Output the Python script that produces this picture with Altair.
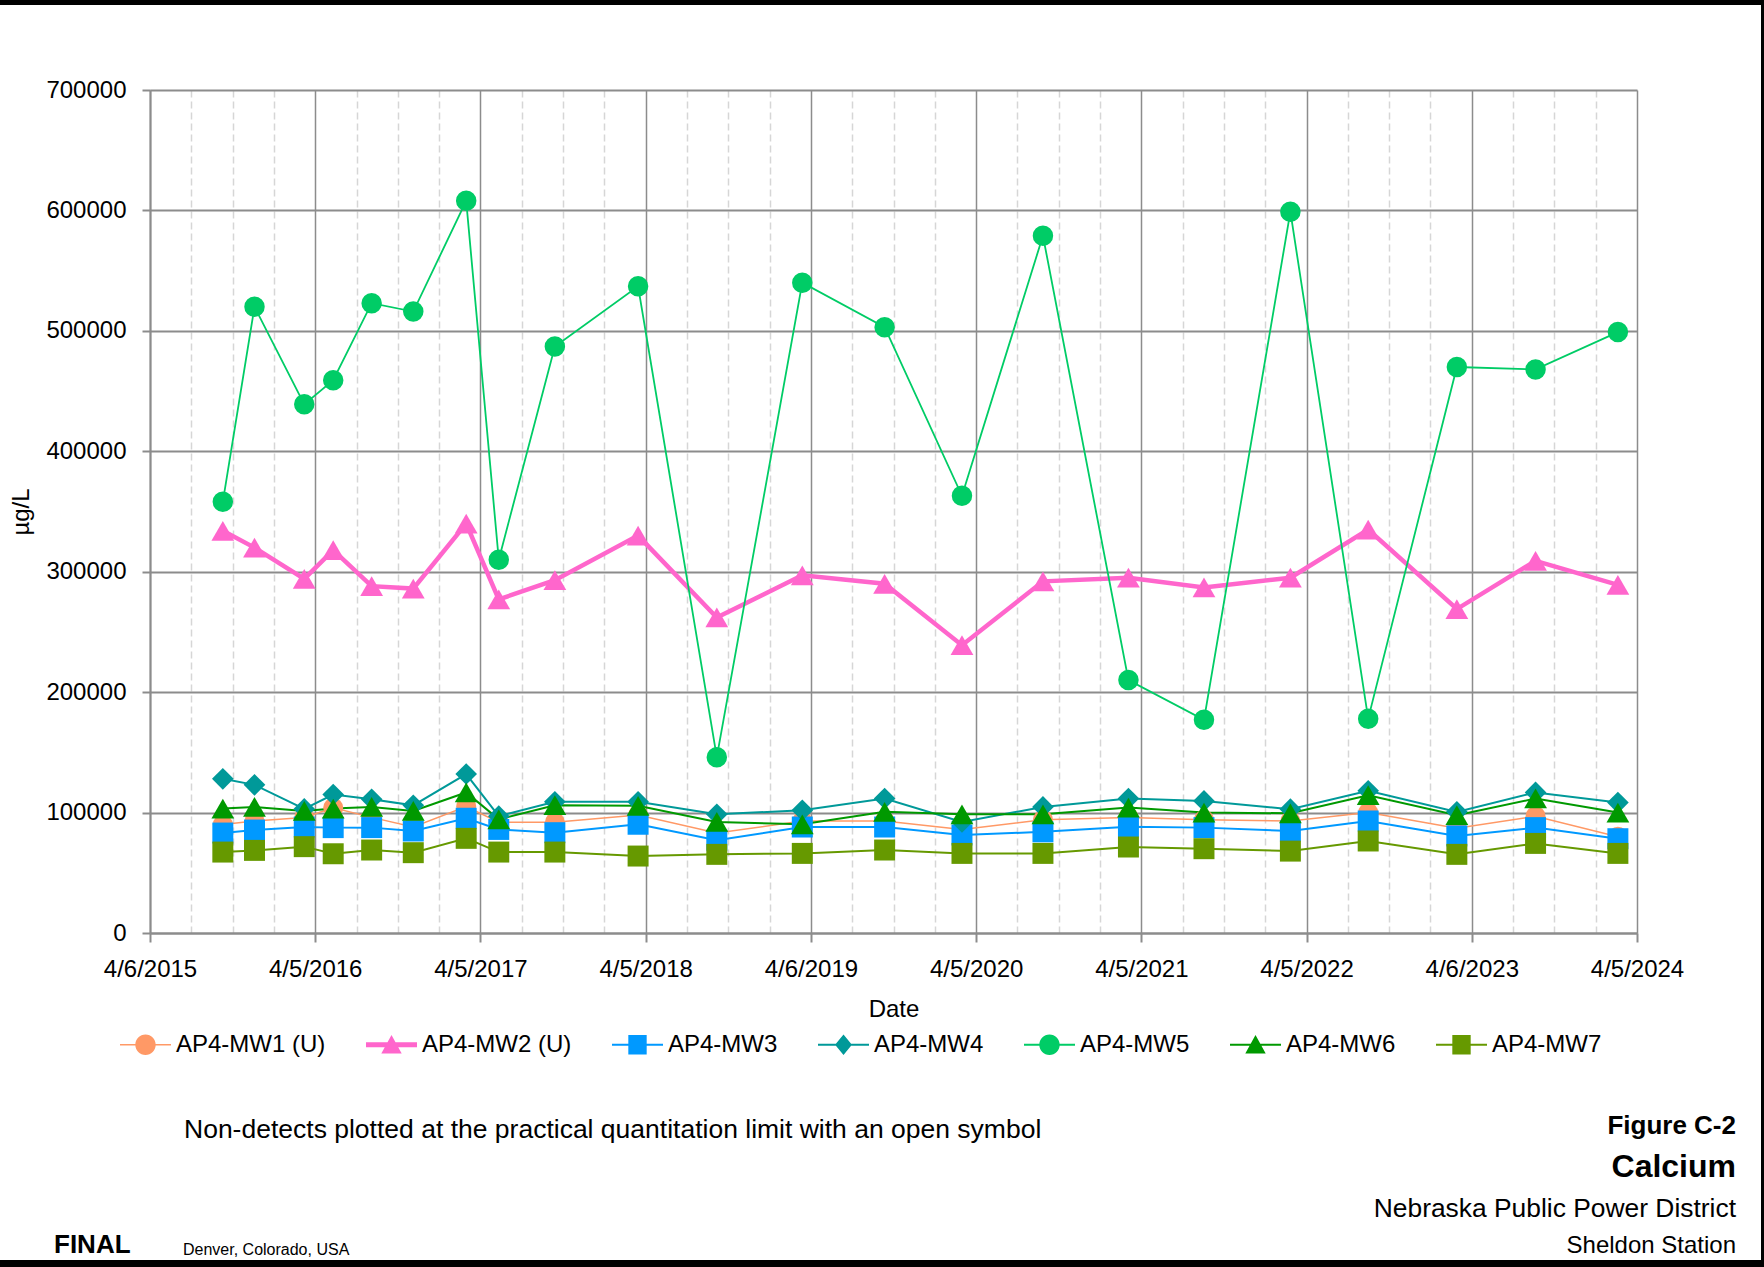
import altair as alt
import pandas as pd
from datetime import datetime, timezone

# ---------------- data ----------------
series_names = ["AP4-MW1 (U)", "AP4-MW2 (U)", "AP4-MW3", "AP4-MW4", "AP4-MW5", "AP4-MW6", "AP4-MW7"]

sample_dates = ["2015-09-14", "2015-11-23", "2016-03-12", "2016-05-15", "2016-08-08", "2016-11-08",
                "2017-03-05", "2017-05-16", "2017-09-17", "2018-03-20", "2018-09-10", "2019-03-18",
                "2019-09-16", "2020-03-05", "2020-08-31", "2021-03-08", "2021-08-22", "2022-03-01",
                "2022-08-20", "2023-03-04", "2023-08-25", "2024-02-23"]

mw1 = [90000, 93000, 96000, 104000, 96000, 88000, 105000, 92000, 92000, 98000, 83000,
       93000, 93000, 86000, 94000, 96000, 94000, 93000, 100000, 87000, 97000, 80000]
mw2 = [334000, 320000, 294000, 318000, 288000, 286000, 340000, 277000, 293000, 330000, 262000,
       297000, 290000, 239000, 292000, 295000, 287000, 295000, 335000, 269000, 309000, 289000]
mw3 = [83000, 85500, 88000, 87500, 87500, 84700, 95300, 86000, 83300, 90300, 77000,
       88000, 88000, 81400, 84000, 88300, 87500, 84700, 93000, 80600, 87500, 78300]
mw4 = [128000, 123000, 103000, 115000, 111000, 106000, 132000, 97000, 109000, 109000, 98600,
       101900, 111700, 92200, 104700, 111700, 109700, 102800, 118100, 100600, 116700, 108300]
mw5 = [358000, 520000, 439000, 459000, 523000, 516000, 608000, 310000, 487000, 537000, 146000,
       540000, 503000, 363000, 579000, 210000, 177000, 599000, 178000, 470000, 468000, 499000]
mw6 = [103300, 104700, 101400, 103300, 104700, 101400, 116700, 94400, 106100, 105600, 92200,
       90300, 100600, 98600, 98600, 104200, 100000, 99400, 114400, 97800, 111700, 100000]
mw7 = [67200, 68600, 71700, 65800, 68900, 66700, 78600, 67200, 67200, 63900, 65300,
       66100, 68900, 66100, 66100, 71400, 70000, 68000, 76400, 65300, 74400, 66100]

major_ticks = ["2015-04-06T00:00", "2016-04-05T06:00", "2017-04-05T12:00", "2018-04-05T18:00",
               "2019-04-06T00:00", "2020-04-05T06:00", "2021-04-05T12:00", "2022-04-05T18:00",
               "2023-04-06T00:00", "2024-04-05T06:00"]
y_ticks = [0, 100000, 200000, 300000, 400000, 500000, 600000, 700000]

# ---------------- styles ----------------
colors = ["#FF9966", "#FF66CC", "#0099FF", "#009999", "#00CC66", "#009900", "#669900"]
shapes = ["circle", "triangle-up", "square", "diamond", "circle", "triangle-up", "square"]
sizes = [400, 520, 440, 470, 420, 520, 440]
widths = [1.5, 4.5, 2, 2, 1.8, 2, 2]

BAR_THIN = "M-1,-0.04H1V0.04H-1Z"
BAR_MW1 = "M-1,-0.03H1V0.03H-1Z"
BAR_THICK = "M-1,-0.1H1V0.1H-1Z"
CIRC = "M0.4,0A0.4,0.4,0,1,1,-0.4,0A0.4,0.4,0,1,1,0.4,0Z"
TRI = "M0,-0.38L0.4,0.34L-0.4,0.34Z"
SQ = "M-0.36,-0.38H0.36V0.38H-0.36Z"
DIA = "M0,-0.4L0.33,0L0,0.4L-0.33,0Z"
legend_paths = [BAR_MW1 + CIRC, BAR_THICK + TRI, BAR_THIN + SQ, BAR_THIN + DIA,
                BAR_THIN + CIRC, BAR_THIN + TRI, BAR_THIN + SQ]

FONT = "Liberation Sans"
GRID_DARK = "#8c8c8c"

rows = []
for name, vals in zip(series_names, [mw1, mw2, mw3, mw4, mw5, mw6, mw7]):
    for d, v in zip(sample_dates, vals):
        rows.append({"series": name, "date": d, "value": v})
df = pd.DataFrame(rows)


def to_ms(s):
    return int(datetime.fromisoformat(s).replace(tzinfo=timezone.utc).timestamp() * 1000)


major_ms = [to_ms(s) for s in major_ticks]
minor_ms = [a + (b - a) * k / 4 for a, b in zip(major_ms[:-1], major_ms[1:]) for k in (1, 2, 3)]

x_scale = alt.Scale(type="utc", domain=[major_ms[0], major_ms[-1]], nice=False)
y_scale = alt.Scale(domain=[0, 700000], nice=False, zero=True)
color_scale = alt.Scale(domain=series_names, range=colors)

major_axis = alt.Axis(values=major_ms, labelExpr="utcFormat(datum.value, '%-m/%-d/%Y')",
                      orient="bottom",
                      title="Date", grid=True, gridColor=GRID_DARK, gridWidth=1.5,
                      domainColor=GRID_DARK, domainWidth=2, tickColor=GRID_DARK, tickWidth=2,
                      tickSize=9, labelFont=FONT, labelFontSize=24, labelColor="black",
                      labelPadding=15, labelFlush=False, labelOverlap=False, labelBound=False,
                      titleFont=FONT, titleFontSize=24, titleFontWeight="normal",
                      titleColor="black", titlePadding=16)
minor_axis = alt.Axis(values=minor_ms, orient="bottom", labels=False, ticks=False, domain=False,
                      grid=True, gridColor="#d6d6d6", gridDash=[7, 4], gridWidth=1.5, title=None)
y_axis = alt.Axis(values=y_ticks, format="d", grid=True, gridColor=GRID_DARK, gridWidth=2,
                  domainColor=GRID_DARK, domainWidth=2, tickColor=GRID_DARK, tickWidth=2,
                  tickSize=8, labelFont=FONT, labelFontSize=24, labelColor="black",
                  labelPadding=16, labelFlush=False, labelOverlap=False,
                  title="µg/L", titleFont=FONT, titleFontSize=24, titleFontWeight="normal",
                  titleColor="black", titlePadding=12)

leg = alt.Legend(title=None, orient="none", legendX=-30, legendY=929, direction="horizontal",
                 symbolSize=2601, symbolStrokeWidth=0, symbolOpacity=1,
                 labelFont=FONT, labelFontSize=24, labelColor="black", labelOffset=5,
                 labelLimit=400, columnPadding=40, padding=0, offset=0)

legend_layer = alt.Chart(df).mark_point(filled=True, opacity=0, size=2601).encode(
    x=alt.X("date:T", scale=x_scale, axis=minor_axis),
    y=alt.Y("value:Q", scale=y_scale, axis=y_axis),
    color=alt.Color("series:N", scale=color_scale, legend=leg),
    shape=alt.Shape("series:N", scale=alt.Scale(domain=series_names, range=legend_paths), legend=leg),
)

lines = alt.Chart(df).mark_line().encode(
    x=alt.X("date:T", scale=x_scale, axis=major_axis),
    y=alt.Y("value:Q", scale=y_scale, axis=y_axis),
    color=alt.Color("series:N", scale=color_scale, legend=None),
    strokeWidth=alt.StrokeWidth("series:N", scale=alt.Scale(type="ordinal", domain=series_names, range=widths),
                                legend=None),
    detail="series:N",
)

points = alt.Chart(df).mark_point(filled=True, opacity=1, strokeWidth=0).encode(
    x=alt.X("date:T", scale=x_scale, axis=None),
    y=alt.Y("value:Q", scale=y_scale, axis=y_axis),
    color=alt.Color("series:N", scale=color_scale, legend=None),
    shape=alt.Shape("series:N", scale=alt.Scale(domain=series_names, range=shapes), legend=None),
    size=alt.Size("series:N", scale=alt.Scale(type="ordinal", domain=series_names, range=sizes), legend=None),
)


def note(text, x, y, size, weight="normal", align="left"):
    return alt.Chart(alt.Data(values=[{}])).mark_text(
        text=text, align=align, baseline="alphabetic", font=FONT, fontSize=size,
        fontWeight=weight, color="black"
    ).encode(x=alt.value(x), y=alt.value(y))


def bar(x, x2, y, y2, w):
    return alt.Chart(alt.Data(values=[{}])).mark_rule(color="black", strokeWidth=w).encode(
        x=alt.value(x), x2=alt.value(x2), y=alt.value(y), y2=alt.value(y2))


notes = [
    note("Non-detects plotted at the practical quantitation limit with an open symbol", 34, 1048, 26.5),
    note("Figure C-2", 1586, 1044, 26, "bold", "right"),
    note("Calcium", 1586, 1087, 32, "bold", "right"),
    note("Nebraska Public Power District", 1586, 1127, 26.4, "normal", "right"),
    note("Sheldon Station", 1586, 1163, 24, "normal", "right"),
    note("FINAL", -96, 1163, 26, "bold"),
    note("Denver, Colorado, USA", 33, 1165, 16),
]
borders = [
    bar(-150, 1614, -87.5, -87.5, 5),
    bar(1612.5, 1612.5, -90, 1177, 3),
    bar(-150, 1614, 1173.5, 1173.5, 7),
]

chart = alt.layer(legend_layer, lines, points, *notes, *borders).resolve_scale(
    color="independent", shape="independent", size="independent", strokeWidth="independent"
).resolve_axis(x="independent").properties(
    width=1487, height=843,
    padding={"left": 150, "top": 90, "right": 127, "bottom": 334},
    autosize=alt.AutoSizeParams(type="none"),
    background="white",
).configure_view(strokeWidth=0)

chart.save("out.html", embed_options={"renderer": "svg", "actions": False})
